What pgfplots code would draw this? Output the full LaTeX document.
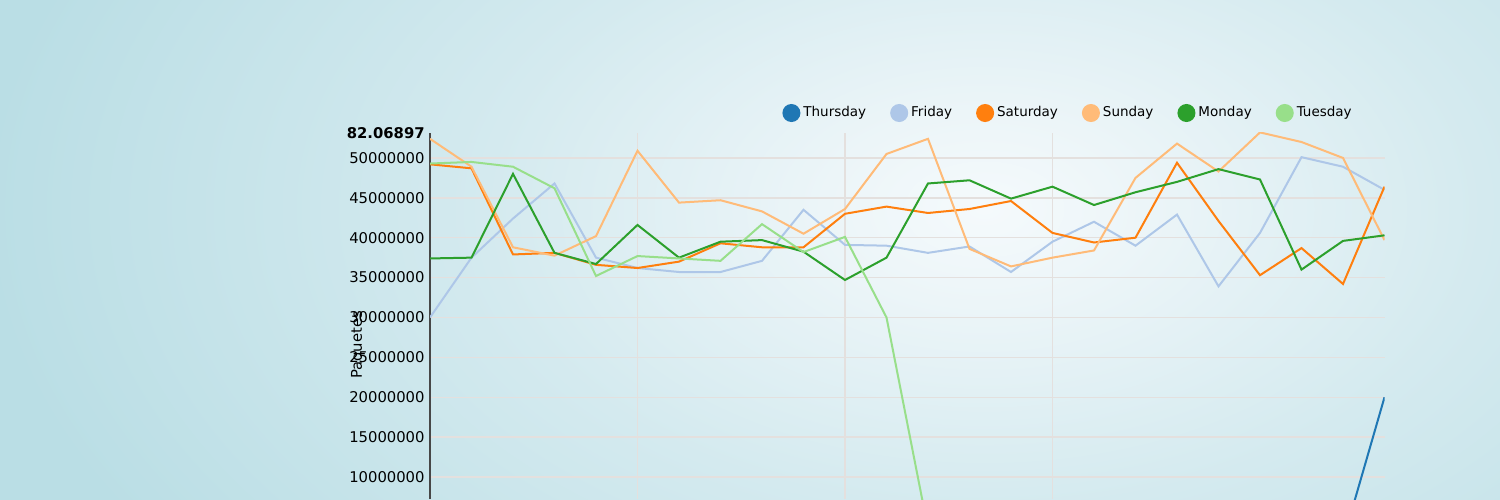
\documentclass[border=0pt]{standalone}
\usepackage{fontspec}
\setmainfont{DejaVu Sans}
\usepackage{pgfplots}
\usepackage{pgfplotstable}
\pgfplotsset{compat=1.18}

\definecolor{cThu}{HTML}{1F77B4}
\definecolor{cFri}{HTML}{AEC7E8}
\definecolor{cSat}{HTML}{FF7F0E}
\definecolor{cSun}{HTML}{FFBB78}
\definecolor{cMon}{HTML}{2CA02C}
\definecolor{cTue}{HTML}{98DF8A}
\definecolor{gridc}{HTML}{E4E0DE}
\definecolor{bgedge}{RGB}{186,222,229}
% the path edge of the shaded ellipse sits at 25bp
\pgfdeclareradialshading{bgshade}{\pgfpoint{0bp}{0bp}}{%
  color(0bp)=(rgb,255:red,245;green,250;blue,252);
  color(4bp)=(rgb,255:red,236;green,245;blue,248);
  color(12.5bp)=(rgb,255:red,212;green,234;blue,239);
  color(25bp)=(rgb,255:red,186;green,222;blue,229);
  color(50bp)=(rgb,255:red,186;green,222;blue,229)}

% columns: index, Friday, Saturday, Sunday, Monday
\pgfplotstableread{
x  fri       sat       sun       mon
0  30000000  49200000  52400000  37400000
1  37500000  48700000  48900000  37500000
2  42400000  37900000  38800000  48000000
3  46800000  38100000  37750000  38100000
4  37500000  36600000  40200000  36700000
5  36200000  36200000  50900000  41600000
6  35700000  37000000  44400000  37500000
7  35700000  39300000  44700000  39500000
8  37100000  38800000  43300000  39700000
9  43500000  38800000  40500000  38250000
10 39100000  43000000  43600000  34700000
11 39000000  43900000  50500000  37500000
12 38100000  43100000  52400000  46800000
13 38900000  43600000  38600000  47200000
14 35700000  44600000  36400000  44900000
15 39500000  40600000  37500000  46400000
16 42000000  39400000  38400000  44100000
17 39000000  40000000  47500000  45700000
18 42900000  49400000  51800000  47000000
19 33900000  42100000  48300000  48600000
20 40600000  35300000  53200000  47300000
21 50100000  38700000  52000000  36000000
22 48900000  34200000  50000000  39600000
23 46000000  46400000  39700000  40300000
}\weekdata

\pgfplotstableread{
x  tue
0  49300000
1  49500000
2  48900000
3  46200000
4  35200000
5  37700000
6  37400000
7  37100000
8  41700000
9  38200000
10 40100000
11 30000000
12 3500000
}\tuedata

\pgfplotstableread{
x  thu
22 2000000
23 20000000
}\thudata

\begin{document}
\begin{tikzpicture}
\useasboundingbox (0pt,0pt) rectangle (750pt,249.5pt);
\fill[bgedge] (-10pt,-10pt) rectangle (760pt,260pt);
\shade[shading=bgshade] (492pt,145pt) ellipse (500pt and 300pt);
\begin{axis}[
    at={(215pt,0pt)}, anchor=south west,
    scale only axis,
    width=477.25pt, height=183pt,
    xmin=0, xmax=23,
    ymin=7240000, ymax=53130000,
    axis lines=left,
    axis line style={-},
    x axis line style={draw=none},
    y axis line style={draw=black!72, line width=1pt},
    xtick={5,10,15}, xticklabels={},
    ytick={10000000,15000000,20000000,25000000,30000000,35000000,40000000,45000000,50000000},
    yticklabels={10000000,15000000,20000000,25000000,30000000,35000000,40000000,45000000,50000000},
    scaled y ticks=false,
    extra y ticks={53130000},
    extra y tick labels={\textbf{82.06897}},
    extra y tick style={grid=none},
    major tick length=0pt,
    yticklabel style={font=\fontsize{7.4}{8}\selectfont, inner xsep=2.5pt},
    grid=major,
    major grid style={gridc, line width=0.7pt},
    ylabel={Paquetes},
    ylabel style={at={(axis description cs:-0.0754,0.421)}, anchor=center, font=\fontsize{7.4}{8}\selectfont},
    legend columns=6,
    legend style={at={(rel axis cs:0.3688,1.0546)}, anchor=west,
        draw=none, fill=none, inner sep=0pt,
        font=\fontsize{6.75}{8}\selectfont,
        nodes={inner xsep=1.5pt, inner ysep=0pt},
        /tikz/every even column/.append style={column sep=10.5pt}},
    legend image code/.code={\fill[#1] (4pt,0pt) circle (4pt);},
    every axis plot/.append style={line width=1pt},
]
\addplot[cThu] table[x=x, y=thu] {\thudata};
\addlegendentry{Thursday}
\addplot[cFri] table[x=x, y=fri] {\weekdata};
\addlegendentry{Friday}
\addplot[cSat] table[x=x, y=sat] {\weekdata};
\addlegendentry{Saturday}
\addplot[cSun] table[x=x, y=sun] {\weekdata};
\addlegendentry{Sunday}
\addplot[cMon] table[x=x, y=mon] {\weekdata};
\addlegendentry{Monday}
\addplot[cTue] table[x=x, y=tue] {\tuedata};
\addlegendentry{Tuesday}
\end{axis}
\end{tikzpicture}
\end{document}
